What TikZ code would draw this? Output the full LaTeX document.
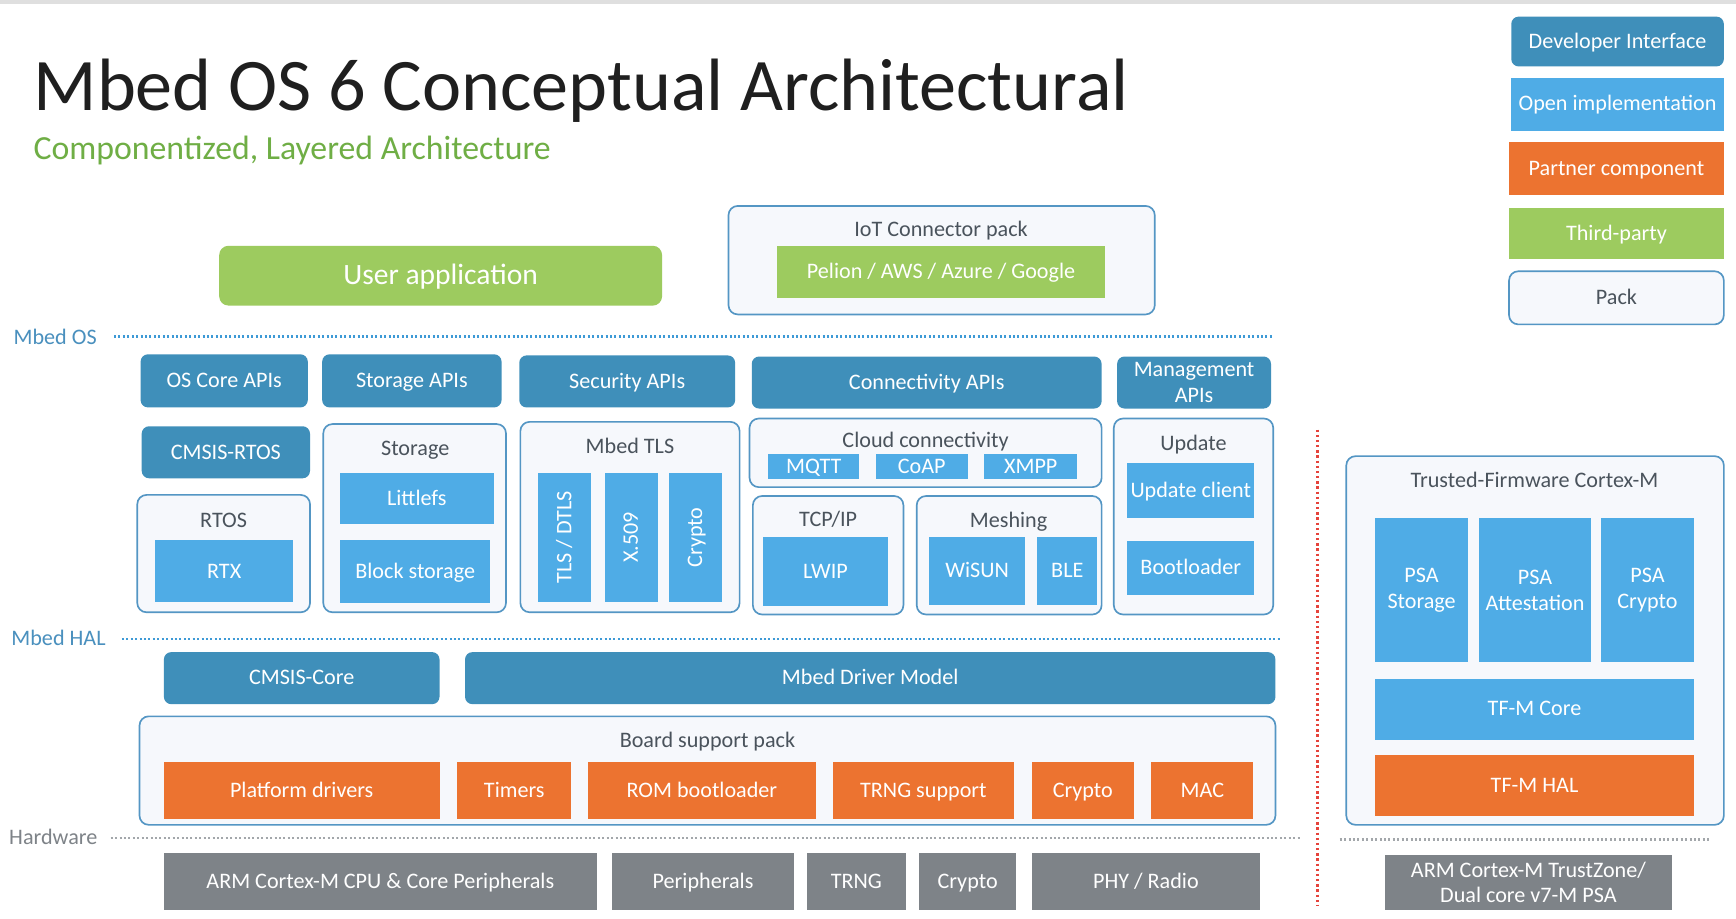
\documentclass[tikz,border=0pt]{standalone}
\usepackage{fontspec}
\setmainfont{Carlito}
\definecolor{dev}{HTML}{3F8FBA}
\definecolor{open}{HTML}{4FACE6}
\definecolor{partner}{HTML}{EC7330}
\definecolor{third}{HTML}{9DCB5F}
\definecolor{hw}{HTML}{7E8388}
\definecolor{packfill}{HTML}{F6F8FC}
\definecolor{packline}{HTML}{5496C4}
\definecolor{packtext}{HTML}{4A535C}
\definecolor{layerblue}{HTML}{3E9AD6}
\definecolor{layertext}{HTML}{4A90BE}
\definecolor{subgreen}{HTML}{6FAE45}
\definecolor{reddot}{HTML}{E5433B}
\definecolor{graydot}{HTML}{A3A7AB}
\newcommand\bx[7]{\node[#2, minimum width={(#5-#3)*0.6pt}, minimum height={(#6-#4)*0.6pt}] (#1) at ({(#3+#5)/2},{(#4+#6)/2}) {#7};}
\tikzset{
  base/.style={inner sep=0pt, outer sep=0pt, text=white, font=\fontsize{12}{14}\selectfont, align=center},
  one/.style={text height=8pt, text depth=0.6pt},
  devbox/.style={base, fill=dev, rounded corners=4pt},
  openbox/.style={base, fill=open},
  partbox/.style={base, fill=partner},
  thirdbox/.style={base, fill=third},
  hwbox/.style={base, fill=hw},
  packbox/.style={base, text=packtext, fill=packfill, draw=packline, line width=0.9pt, rounded corners=5pt},
  packlabel/.style={inner sep=0pt, text=packtext, font=\fontsize{12}{14}\selectfont, text height=8pt, text depth=0.6pt},
  layerlabel/.style={inner sep=0pt, anchor=west, text=layertext, font=\fontsize{12}{14}\selectfont, text height=8pt, text depth=0.6pt},
  dotline/.style={line width=1.4pt, dash pattern=on 1.1pt off 1.3pt, draw=layerblue},
  rottext/.style={inner sep=0pt, text=white, rotate=90, font=\fontsize{12}{14}\selectfont, text height=8pt, text depth=0.6pt}
}
\begin{document}
\begin{tikzpicture}[x=0.6pt, y=-0.6pt]
\useasboundingbox (0,0) rectangle (1568,829.2);
\fill[white] (0,0) rectangle (1568,829.2);
\fill[gray!25] (0,0) rectangle (1568,4);
% title
\node[inner sep=0pt, anchor=base west, font=\fontsize{40.2}{44}\selectfont, text=black!88] (title) at (30,100) {Mbed OS 6 Conceptual Architectural};
\node[inner sep=0pt, anchor=base west, font=\fontsize{18.3}{21}\selectfont, text=subgreen] (subtitle) at (30,144) {Componentized, Layered Architecture};
% legend
\bx{lgDev}{devbox,one}{1365}{15}{1557}{60}{Developer Interface}
\bx{lgOpen}{openbox,one}{1365}{70}{1557}{118}{Open implementation}
\bx{lgPart}{partbox,one}{1363}{128}{1557}{176}{Partner component}
\bx{lgThird}{thirdbox,one}{1363}{188}{1557}{234}{Third-party}
\bx{lgPack}{packbox,one}{1363}{245}{1557}{293}{Pack}
% top
\bx{userapp}{thirdbox, rounded corners=5pt, font=\fontsize{16}{18}\selectfont, text height=10.5pt, text depth=1pt}{198}{222}{598}{276}{User application}
\bx{iot}{packbox}{658}{186}{1043}{284}{}
\node[packlabel] (iotL) at (850,207) {IoT Connector pack};
\bx{pelion}{thirdbox,one}{702}{222}{998}{269}{Pelion / AWS / Azure / Google}
% Mbed OS layer
\node[layerlabel] (osL) at (12,305) {Mbed OS};
\draw[dotline] (103,304) -- (1150,304);
\bx{oscore}{devbox,one}{127}{320}{278}{368}{OS Core APIs}
\bx{storapi}{devbox,one}{291}{320}{453}{368}{Storage APIs}
\bx{secapi}{devbox,one}{469}{321}{664}{368}{Security APIs}
\bx{conapi}{devbox,one}{679}{322}{995}{369}{Connectivity APIs}
\bx{mgmtapi}{devbox}{1009}{322}{1148}{369}{Management\\APIs}
\bx{cmsisrtos}{devbox,one}{128}{385}{280}{432}{CMSIS-RTOS}
\bx{rtos}{packbox}{124}{447}{280}{553}{}
\node[packlabel] (rtosL) at (202,470) {RTOS};
\bx{rtx}{openbox,one}{140}{488}{265}{544}{RTX}
\bx{storage}{packbox}{292}{383}{457}{553}{}
\node[packlabel] (storageL) at (375,405) {Storage};
\bx{littlefs}{openbox,one}{307}{427}{446}{473}{Littlefs}
\bx{blockst}{openbox,one}{307}{488}{443}{545}{Block storage}
\bx{mbedtls}{packbox}{470}{381}{668}{553}{}
\node[packlabel] (mbedtlsL) at (569,403) {Mbed TLS};
\bx{tls}{openbox}{486}{427}{534}{544}{}
\bx{x509}{openbox}{546}{427}{594}{544}{}
\bx{tcrypto}{openbox}{604}{427}{652}{544}{}
\node[rottext] (tlsT) at (tls) {TLS / DTLS};
\node[rottext] (x509T) at (x509) {X.509};
\node[rottext] (tcryptoT) at (tcrypto) {Crypto};
\bx{cloud}{packbox}{677}{378}{995}{440}{}
\node[packlabel] (cloudL) at (836,398) {Cloud connectivity};
\bx{mqtt}{openbox,one}{694}{410}{776}{433}{MQTT}
\bx{coap}{openbox,one}{791}{410}{874}{433}{CoAP}
\bx{xmpp}{openbox,one}{889}{410}{973}{433}{XMPP}
\bx{tcpip}{packbox}{680}{448}{816}{555}{}
\node[packlabel] (tcpipL) at (748,469) {TCP/IP};
\bx{lwip}{openbox,one}{689}{485}{802}{547}{LWIP}
\bx{mesh}{packbox}{828}{448}{995}{555}{}
\node[packlabel] (meshL) at (911,470) {Meshing};
\bx{wisun}{openbox,one}{839}{485}{926}{546}{WiSUN}
\bx{ble}{openbox,one}{937}{485}{991}{546}{BLE}
\bx{update}{packbox}{1006}{378}{1150}{555}{}
\node[packlabel] (updateL) at (1078,401) {Update};
\bx{updcl}{openbox,one}{1018}{418}{1133}{468}{Update client}
\bx{boot}{openbox,one}{1018}{489}{1133}{537}{Bootloader}
% Mbed HAL layer
\node[layerlabel] (halL) at (10,577) {Mbed HAL};
\draw[dotline] (110,577) -- (1157,577);
\bx{cmsiscore}{devbox,one}{148}{589}{397}{636}{CMSIS-Core}
\bx{driver}{devbox,one}{420}{589}{1152}{636}{Mbed Driver Model}
\bx{bsp}{packbox}{126}{647}{1152}{745}{}
\node[packlabel] (bspL) at (639,669) {Board support pack};
\bx{platdrv}{partbox,one}{148}{688}{397}{740}{Platform drivers}
\bx{timers}{partbox,one}{413}{688}{516}{740}{Timers}
\bx{rombl}{partbox,one}{531}{688}{737}{740}{ROM bootloader}
\bx{trngs}{partbox,one}{752}{688}{916}{740}{TRNG support}
\bx{bcrypto}{partbox,one}{932}{688}{1024}{740}{Crypto}
\bx{mac}{partbox,one}{1040}{688}{1132}{740}{MAC}
% Hardware layer
\node[layerlabel, text=hw] (hwL) at (8,757) {Hardware};
\draw[dotline, draw=graydot] (100,757) -- (1175,757);
\draw[dotline, draw=graydot] (1210,758) -- (1545,758);
\bx{armcpu}{hwbox,one}{148}{770}{539}{822}{ARM Cortex-M CPU \& Core Peripherals}
\bx{periph}{hwbox,one}{553}{770}{717}{822}{Peripherals}
\bx{trng}{hwbox,one}{729}{770}{818}{822}{TRNG}
\bx{hcrypto}{hwbox,one}{830}{770}{918}{822}{Crypto}
\bx{phy}{hwbox,one}{932}{770}{1138}{822}{PHY / Radio}
% secure side
\draw[line width=1.6pt, dash pattern=on 1.3pt off 1.5pt, draw=reddot] (1190,388) -- (1190,818);
\bx{tfm}{packbox}{1216}{412}{1557}{745}{}
\node[packlabel] (tfmL) at (1386,434) {Trusted-Firmware Cortex-M};
\bx{psast}{openbox}{1242}{468}{1326}{598}{PSA\\Storage}
\bx{psaat}{openbox}{1336}{468}{1437}{598}{PSA\\Attestation}
\bx{psacr}{openbox}{1446}{468}{1530}{598}{PSA\\Crypto}
\bx{tfmcore}{openbox,one}{1242}{613}{1530}{668}{TF-M Core}
\bx{tfmhal}{partbox,one}{1242}{682}{1530}{737}{TF-M HAL}
\bx{trustzone}{hwbox}{1251}{772}{1510}{822}{ARM Cortex-M TrustZone/\\Dual core v7-M PSA}
\end{tikzpicture}
\end{document}
